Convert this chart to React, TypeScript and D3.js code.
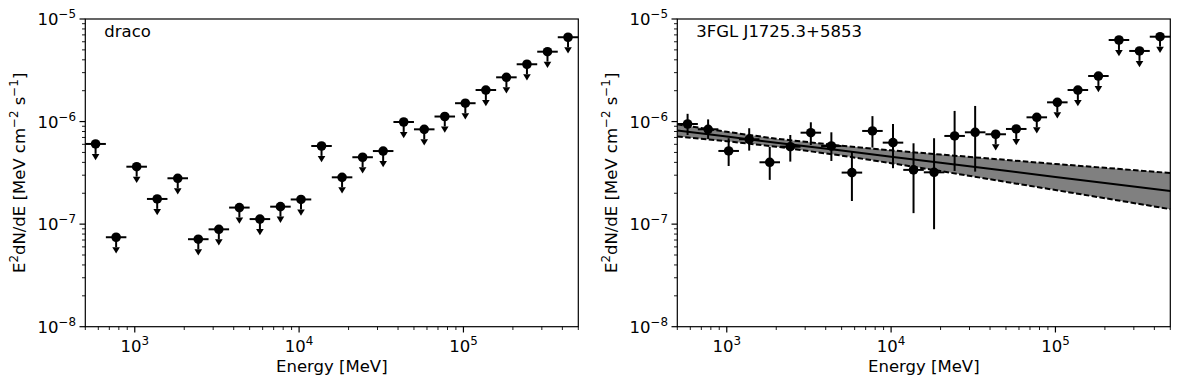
import { useEffect, useRef } from 'react';
import * as d3 from 'd3';

const W = 1180;
const H = 388;
const FONT = '"DejaVu Sans", sans-serif';
const FS = 16.5;

// energy bin edges [MeV], 8 bins per decade
const binEdges = [
  500, 667, 889, 1186, 1581, 2109, 2812, 3750, 5000, 6668, 8891, 11858, 15811,
  21085, 28117, 37495, 50000, 66676, 88914, 118569, 158114, 210848, 281171, 374947, 500000,
];

// draco: upper limits in every bin
const dracoUL = [
  6.05e-7, 7.45e-8, 3.63e-7, 1.76e-7, 2.8e-7, 7.13e-8, 8.9e-8, 1.45e-7, 1.12e-7, 1.48e-7,
  1.74e-7, 5.78e-7, 2.86e-7, 4.49e-7, 5.16e-7, 9.9e-7, 8.4e-7, 1.12e-6, 1.51e-6, 2.03e-6,
  2.7e-6, 3.62e-6, 4.8e-6, 6.64e-6,
];

// 3FGL J1725.3+5853: detections in the first 15 bins, upper limits above
const srcFlux = [9.47e-7, 8.41e-7, 5.17e-7, 6.72e-7, 4.01e-7, 5.69e-7, 7.79e-7, 5.78e-7, 3.18e-7, 8.1e-7, 6.23e-7, 3.38e-7, 3.2e-7, 7.24e-7, 7.86e-7];
const srcHi = [1.19e-6, 1.05e-6, 6.88e-7, 8.61e-7, 5.69e-7, 7.4e-7, 9.84e-7, 7.86e-7, 5.09e-7, 1.13e-6, 9.47e-7, 6.14e-7, 6.88e-7, 1.27e-6, 1.42e-6];
const srcLo = [7.4e-7, 6.77e-7, 3.69e-7, 5.21e-7, 2.7e-7, 4.07e-7, 5.91e-7, 4.13e-7, 1.68e-7, 5.57e-7, 3.51e-7, 1.28e-7, 8.92e-8, 3.3e-7, 3.25e-7];
const srcUL = [7.52e-7, 8.47e-7, 1.1e-6, 1.54e-6, 2.03e-6, 2.78e-6, 6.24e-6, 4.88e-6, 6.72e-6];

// best-fit power law with its error band
const modelEnergy = [500, 1000, 2000, 5000, 1e4, 2e4, 5e4, 1e5, 2e5, 5e5];
const modelFlux = [8.19e-7, 7.14e-7, 6.23e-7, 5.21e-7, 4.54e-7, 3.96e-7, 3.31e-7, 2.88e-7, 2.52e-7, 2.1e-7];
const modelHi = [9.39e-7, 7.94e-7, 6.81e-7, 5.81e-7, 5.24e-7, 4.77e-7, 4.23e-7, 3.86e-7, 3.54e-7, 3.15e-7];
const modelLo = [7.14e-7, 6.43e-7, 5.69e-7, 4.66e-7, 3.93e-7, 3.29e-7, 2.58e-7, 2.15e-7, 1.79e-7, 1.4e-7];

const xTicks = [1e3, 1e4, 1e5];
const xTickExp = ['3', '4', '5'];
const yTicks = [1e-8, 1e-7, 1e-6, 1e-5];
const yTickExp = ['\u22128', '\u22127', '\u22126', '\u22125'];

const UL_FRAC = 0.2;

function drawPanel(svg, left, title, points, model) {
  const right = left + 493;
  const top = 19;
  const bottom = 326.7;
  const x = d3.scaleLog().domain([500, 5e5]).range([left, right]);
  const y = d3.scaleLog().domain([1e-8, 1e-5]).range([bottom, top]);
  const g = svg.append('g');

  const isMajor = (v) => Math.abs(Math.log10(v) - Math.round(Math.log10(v))) < 1e-6;

  // model band
  if (model) {
    const rows = modelEnergy.map((e, i) => ({ e, f: modelFlux[i], hi: modelHi[i], lo: modelLo[i] }));
    g.append('path').datum(rows)
      .attr('fill', '#808080')
      .attr('d', d3.area().x(d => x(d.e)).y0(d => y(d.lo)).y1(d => y(d.hi)));
    g.append('path').datum(rows).attr('fill', 'none').attr('stroke', '#000').attr('stroke-width', 2)
      .attr('d', d3.line().x(d => x(d.e)).y(d => y(d.f)));
    ['hi', 'lo'].forEach(k => {
      g.append('path').datum(rows).attr('fill', 'none').attr('stroke', '#000').attr('stroke-width', 2)
        .attr('stroke-dasharray', '5.5,2.4')
        .attr('d', d3.line().x(d => x(d.e)).y(d => y(d[k])));
    });
  }

  // error bars
  points.forEach(p => {
    const cx = Math.sqrt(p.e0 * p.e1);
    const px = x(cx);
    const py = y(p.v);
    g.append('line').attr('x1', x(p.e0)).attr('x2', x(p.e1)).attr('y1', py).attr('y2', py)
      .attr('stroke', '#000').attr('stroke-width', 2);
    if (p.ul) {
      const yb = y(p.v * (1 - UL_FRAC));
      g.append('line').attr('x1', px).attr('x2', px).attr('y1', py).attr('y2', yb)
        .attr('stroke', '#000').attr('stroke-width', 2);
      g.append('path').attr('d', `M${px - 3.8},${yb}L${px + 3.8},${yb}L${px},${yb + 6.3}Z`)
        .attr('fill', '#000');
    } else {
      g.append('line').attr('x1', px).attr('x2', px).attr('y1', y(p.hi)).attr('y2', y(p.lo))
        .attr('stroke', '#000').attr('stroke-width', 2);
    }
    g.append('circle').attr('cx', px).attr('cy', py).attr('r', 4.8).attr('fill', '#000');
  });

  // frame
  g.append('rect').attr('x', left).attr('y', top).attr('width', right - left).attr('height', bottom - top)
    .attr('fill', 'none').attr('stroke', '#000').attr('stroke-width', 1.2);

  // x ticks
  x.ticks().forEach(v => {
    const len = isMajor(v) ? 5.8 : 3.3;
    g.append('line').attr('x1', x(v)).attr('x2', x(v)).attr('y1', bottom).attr('y2', bottom + len)
      .attr('stroke', '#000').attr('stroke-width', isMajor(v) ? 1.2 : 0.9);
  });
  xTicks.forEach((v, i) => {
    const t = g.append('text').attr('x', x(v)).attr('y', 352).attr('text-anchor', 'middle')
      .attr('font-family', FONT).attr('font-size', FS).attr('fill', '#000');
    t.append('tspan').text('10');
    t.append('tspan').attr('dy', -7).attr('font-size', FS * 0.72).text(xTickExp[i]);
  });

  // y ticks
  y.ticks().forEach(v => {
    const len = isMajor(v) ? 5.8 : 3.3;
    g.append('line').attr('x1', left - len).attr('x2', left).attr('y1', y(v)).attr('y2', y(v))
      .attr('stroke', '#000').attr('stroke-width', isMajor(v) ? 1.2 : 0.9);
  });
  yTicks.forEach((v, i) => {
    const t = g.append('text').attr('x', left - 9.3).attr('y', y(v) + 6).attr('text-anchor', 'end')
      .attr('font-family', FONT).attr('font-size', FS).attr('fill', '#000');
    t.append('tspan').text('10');
    t.append('tspan').attr('dy', -7).attr('font-size', FS * 0.72).text(yTickExp[i]);
  });

  // axis labels
  g.append('text').attr('x', (left + right) / 2).attr('y', 371.5).attr('text-anchor', 'middle')
    .attr('font-family', FONT).attr('font-size', FS).attr('fill', '#000').text('Energy [MeV]');

  const yl = g.append('text').attr('transform', `translate(${left - 60.3},${(top + bottom) / 2}) rotate(-90)`)
    .attr('text-anchor', 'middle').attr('font-family', FONT).attr('font-size', FS).attr('fill', '#000');
  const sup = FS * 0.72;
  yl.append('tspan').text('E');
  yl.append('tspan').attr('dy', -7).attr('font-size', sup).text('2');
  yl.append('tspan').attr('dy', 7).text('dN/dE [MeV cm');
  yl.append('tspan').attr('dy', -7).attr('font-size', sup).text('\u22122');
  yl.append('tspan').attr('dy', 7).text(' s');
  yl.append('tspan').attr('dy', -7).attr('font-size', sup).text('\u22121');
  yl.append('tspan').attr('dy', 7).text(']');

  g.append('text').attr('x', left + 19).attr('y', 37.3)
    .attr('font-family', FONT).attr('font-size', FS).attr('fill', '#000').text(title);
}

export default function App() {
  const svgRef = useRef(null);

  useEffect(() => {
    document.body.style.margin = '0';
    const svg = d3.select(svgRef.current);
    svg.selectAll('*').remove();

    const dracoPts = dracoUL.map((v, i) => ({ e0: binEdges[i], e1: binEdges[i + 1], v, ul: true }));
    drawPanel(svg, 85.3, 'draco', dracoPts, false);

    const srcPts = [
      ...srcFlux.map((v, i) => ({ e0: binEdges[i], e1: binEdges[i + 1], v, hi: srcHi[i], lo: srcLo[i], ul: false })),
      ...srcUL.map((v, j) => {
        const i = srcFlux.length + j;
        return { e0: binEdges[i], e1: binEdges[i + 1], v, ul: true };
      }),
    ];
    drawPanel(svg, 677.3, '3FGL J1725.3+5853', srcPts, true);
  }, []);

  return (
    <svg ref={svgRef} width={W} height={H} style={{ display: 'block', background: '#fff' }} />
  );
}
